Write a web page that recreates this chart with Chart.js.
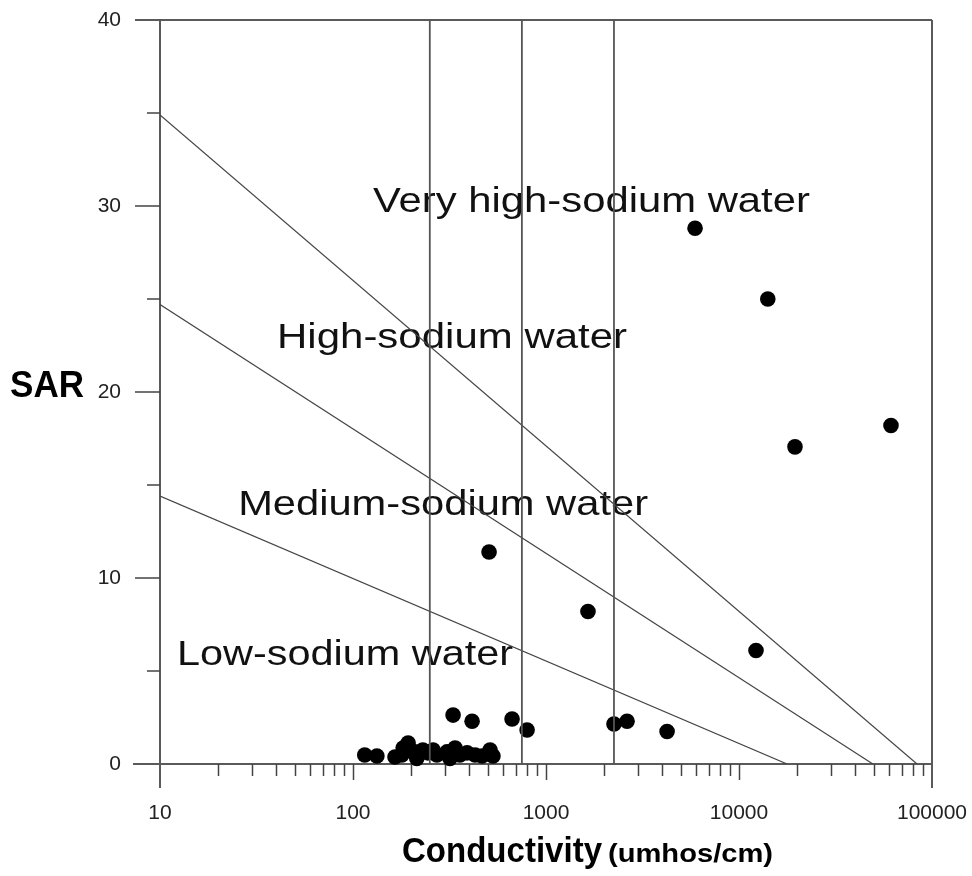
<!DOCTYPE html>
<html><head><meta charset="utf-8">
<script src="https://cdn.jsdelivr.net/npm/chart.js@4.4.1/dist/chart.umd.min.js"></script>
<style>html,body{margin:0;padding:0;background:#fff}canvas{display:block}</style>
</head><body>
<canvas id="c" width="972" height="876"></canvas>
<script>
// ---- data ----
const xTickValues = [10, 100, 1000, 10000, 100000];
const yTickValues = [0, 10, 20, 30, 40];
const yMinorTickValues = [5, 15, 25, 35];

const sampleEC = [5920, 14100, 19500, 61300, 507, 1650, 12250, 4240, 2250, 2630, 798, 667, 414, 330,
  115, 133, 165, 193, 179, 209, 230, 244, 214, 272, 307, 338, 358, 318, 390, 429, 466, 513, 531, 182, 260];
const sampleSAR = [28.8, 25.0, 17.05, 18.2, 11.4, 8.2, 6.1, 1.75, 2.15, 2.3, 1.83, 2.42, 2.3, 2.63,
  0.48, 0.43, 0.38, 1.13, 0.48, 0.65, 0.75, 0.6, 0.3, 0.48, 0.65, 0.86, 0.48, 0.3, 0.6, 0.48, 0.43, 0.75, 0.43, 0.86, 0.75];

const salinityBoundsEC = [250, 750, 2250];
const lowMedEC = [10, 17750], lowMedSAR = [14.4, 0];
const medHighEC = [10, 49400], medHighSAR = [24.7, 0];
const highVeryEC = [10, 83600], highVerySAR = [34.9, 0];

const regionNames = ['Low-sodium water', 'Medium-sodium water', 'High-sodium water', 'Very high-sodium water'];

// ---- helpers ----
const toPts = (xs, ys) => xs.map((v, i) => ({x: v, y: ys[i]}));
function lineDs(xs, ys, color, width) {
  return {data: toPts(xs, ys), showLine: true, pointRadius: 0, borderColor: color, borderWidth: width, fill: false};
}
function drawFitted(ctx, text, font, x, baseline, width) {
  ctx.font = font;
  const w = ctx.measureText(text).width;
  ctx.save();
  ctx.translate(x, baseline);
  ctx.scale(width / w, 1);
  ctx.textBaseline = 'alphabetic';
  ctx.textAlign = 'left';
  ctx.fillText(text, 0, 0);
  ctx.restore();
}

const datasets = [];
salinityBoundsEC.forEach(v => datasets.push(lineDs([v, v], [0, 40], '#555', 1.8)));
datasets.push(lineDs(lowMedEC, lowMedSAR, '#444', 1.2));
datasets.push(lineDs(medHighEC, medHighSAR, '#444', 1.2));
datasets.push(lineDs(highVeryEC, highVerySAR, '#444', 1.2));
datasets.push({data: toPts(sampleEC, sampleSAR), pointRadius: 7.8, pointBackgroundColor: '#000',
  pointBorderColor: '#000', pointBorderWidth: 0, showLine: false, clip: 12});

const labelPlacement = [
  {left: 12.25, right: 675, base: 5.32},
  {left: 25.4, right: 3377, base: 13.39},
  {left: 40.4, right: 2630, base: 22.37},
  {left: 127, right: 23300, base: 29.7}
];

const framePlugin = {
  id: 'frame',
  beforeDatasetsDraw(chart) {
    const {ctx, chartArea: a, scales: {x, y}} = chart;
    ctx.save();
    // region labels
    ctx.fillStyle = '#111';
    regionNames.forEach((t, i) => {
      const p = labelPlacement[i];
      const x0 = x.getPixelForValue(p.left), x1 = x.getPixelForValue(p.right);
      drawFitted(ctx, t, '35px "Liberation Sans", Arial, sans-serif', x0, y.getPixelForValue(p.base), x1 - x0);
    });
    // frame
    ctx.strokeStyle = '#5a5a5a';
    ctx.lineWidth = 2;
    ctx.beginPath();
    ctx.moveTo(a.left - 25, a.top); ctx.lineTo(a.right, a.top);
    ctx.moveTo(a.left - 27, a.bottom); ctx.lineTo(a.right, a.bottom);
    ctx.moveTo(a.left, a.top); ctx.lineTo(a.left, a.bottom + 24);
    ctx.moveTo(a.right, a.top); ctx.lineTo(a.right, a.bottom + 24);
    ctx.stroke();
    // ticks
    ctx.strokeStyle = '#444';
    ctx.lineWidth = 1.5;
    ctx.beginPath();
    yTickValues.slice(1, -1).forEach(v => {
      const py = Math.round(y.getPixelForValue(v));
      ctx.moveTo(a.left - 25, py); ctx.lineTo(a.left, py);
    });
    yMinorTickValues.forEach(v => {
      const py = Math.round(y.getPixelForValue(v));
      ctx.moveTo(a.left - 13, py); ctx.lineTo(a.left, py);
    });
    for (let d = 10; d < 100000; d *= 10) {
      for (let m = 1; m < 10; m++) {
        const v = d * m;
        if (v === 10) continue;
        const px = Math.round(x.getPixelForValue(v)) + 0.5;
        ctx.moveTo(px, a.bottom); ctx.lineTo(px, a.bottom + (m === 1 ? 16 : 12));
      }
    }
    ctx.stroke();
    ctx.restore();
  },
  afterDraw(chart) {
    const {ctx} = chart;
    ctx.save();
    ctx.fillStyle = '#000';
    drawFitted(ctx, 'SAR', 'bold 36px "Liberation Sans", Arial, sans-serif', 10, 397, 74);
    drawFitted(ctx, 'Conductivity', 'bold 35px "Liberation Sans", Arial, sans-serif', 402, 862, 200);
    drawFitted(ctx, '(umhos/cm)', 'bold 26px "Liberation Sans", Arial, sans-serif', 608, 862, 165);
    ctx.restore();
  }
};

new Chart(document.getElementById('c'), {
  type: 'scatter',
  data: {datasets},
  options: {
    responsive: false,
    animation: false,
    layout: {padding: {left: 0, top: 20, right: 40, bottom: 0}},
    plugins: {legend: {display: false}, tooltip: {enabled: false}},
    scales: {
      x: {
        type: 'logarithmic', min: 10, max: 100000,
        afterBuildTicks: s => { s.ticks = xTickValues.map(v => ({value: v})); },
        afterFit: s => { s.height = 112; s.paddingLeft = 0; s.paddingRight = 0; s.paddingTop = 0; s.paddingBottom = 0; },
        grid: {display: false, drawTicks: false},
        border: {display: false},
        ticks: {color: '#222', font: {family: '"Liberation Sans", Arial, sans-serif', size: 21}, padding: 37,
          maxRotation: 0, autoSkip: false, callback: v => String(v)}
      },
      y: {
        type: 'linear', min: 0, max: 40,
        afterBuildTicks: s => { s.ticks = yTickValues.map(v => ({value: v})); },
        afterFit: s => { s.width = 160; s.paddingLeft = 0; s.paddingRight = 0; s.paddingTop = 0; s.paddingBottom = 0; },
        grid: {display: false, drawTicks: false},
        border: {display: false},
        ticks: {color: '#222', font: {family: '"Liberation Sans", Arial, sans-serif', size: 21}, padding: 39,
          callback: v => String(v)}
      }
    }
  },
  plugins: [framePlugin]
});
</script>
</body></html>
